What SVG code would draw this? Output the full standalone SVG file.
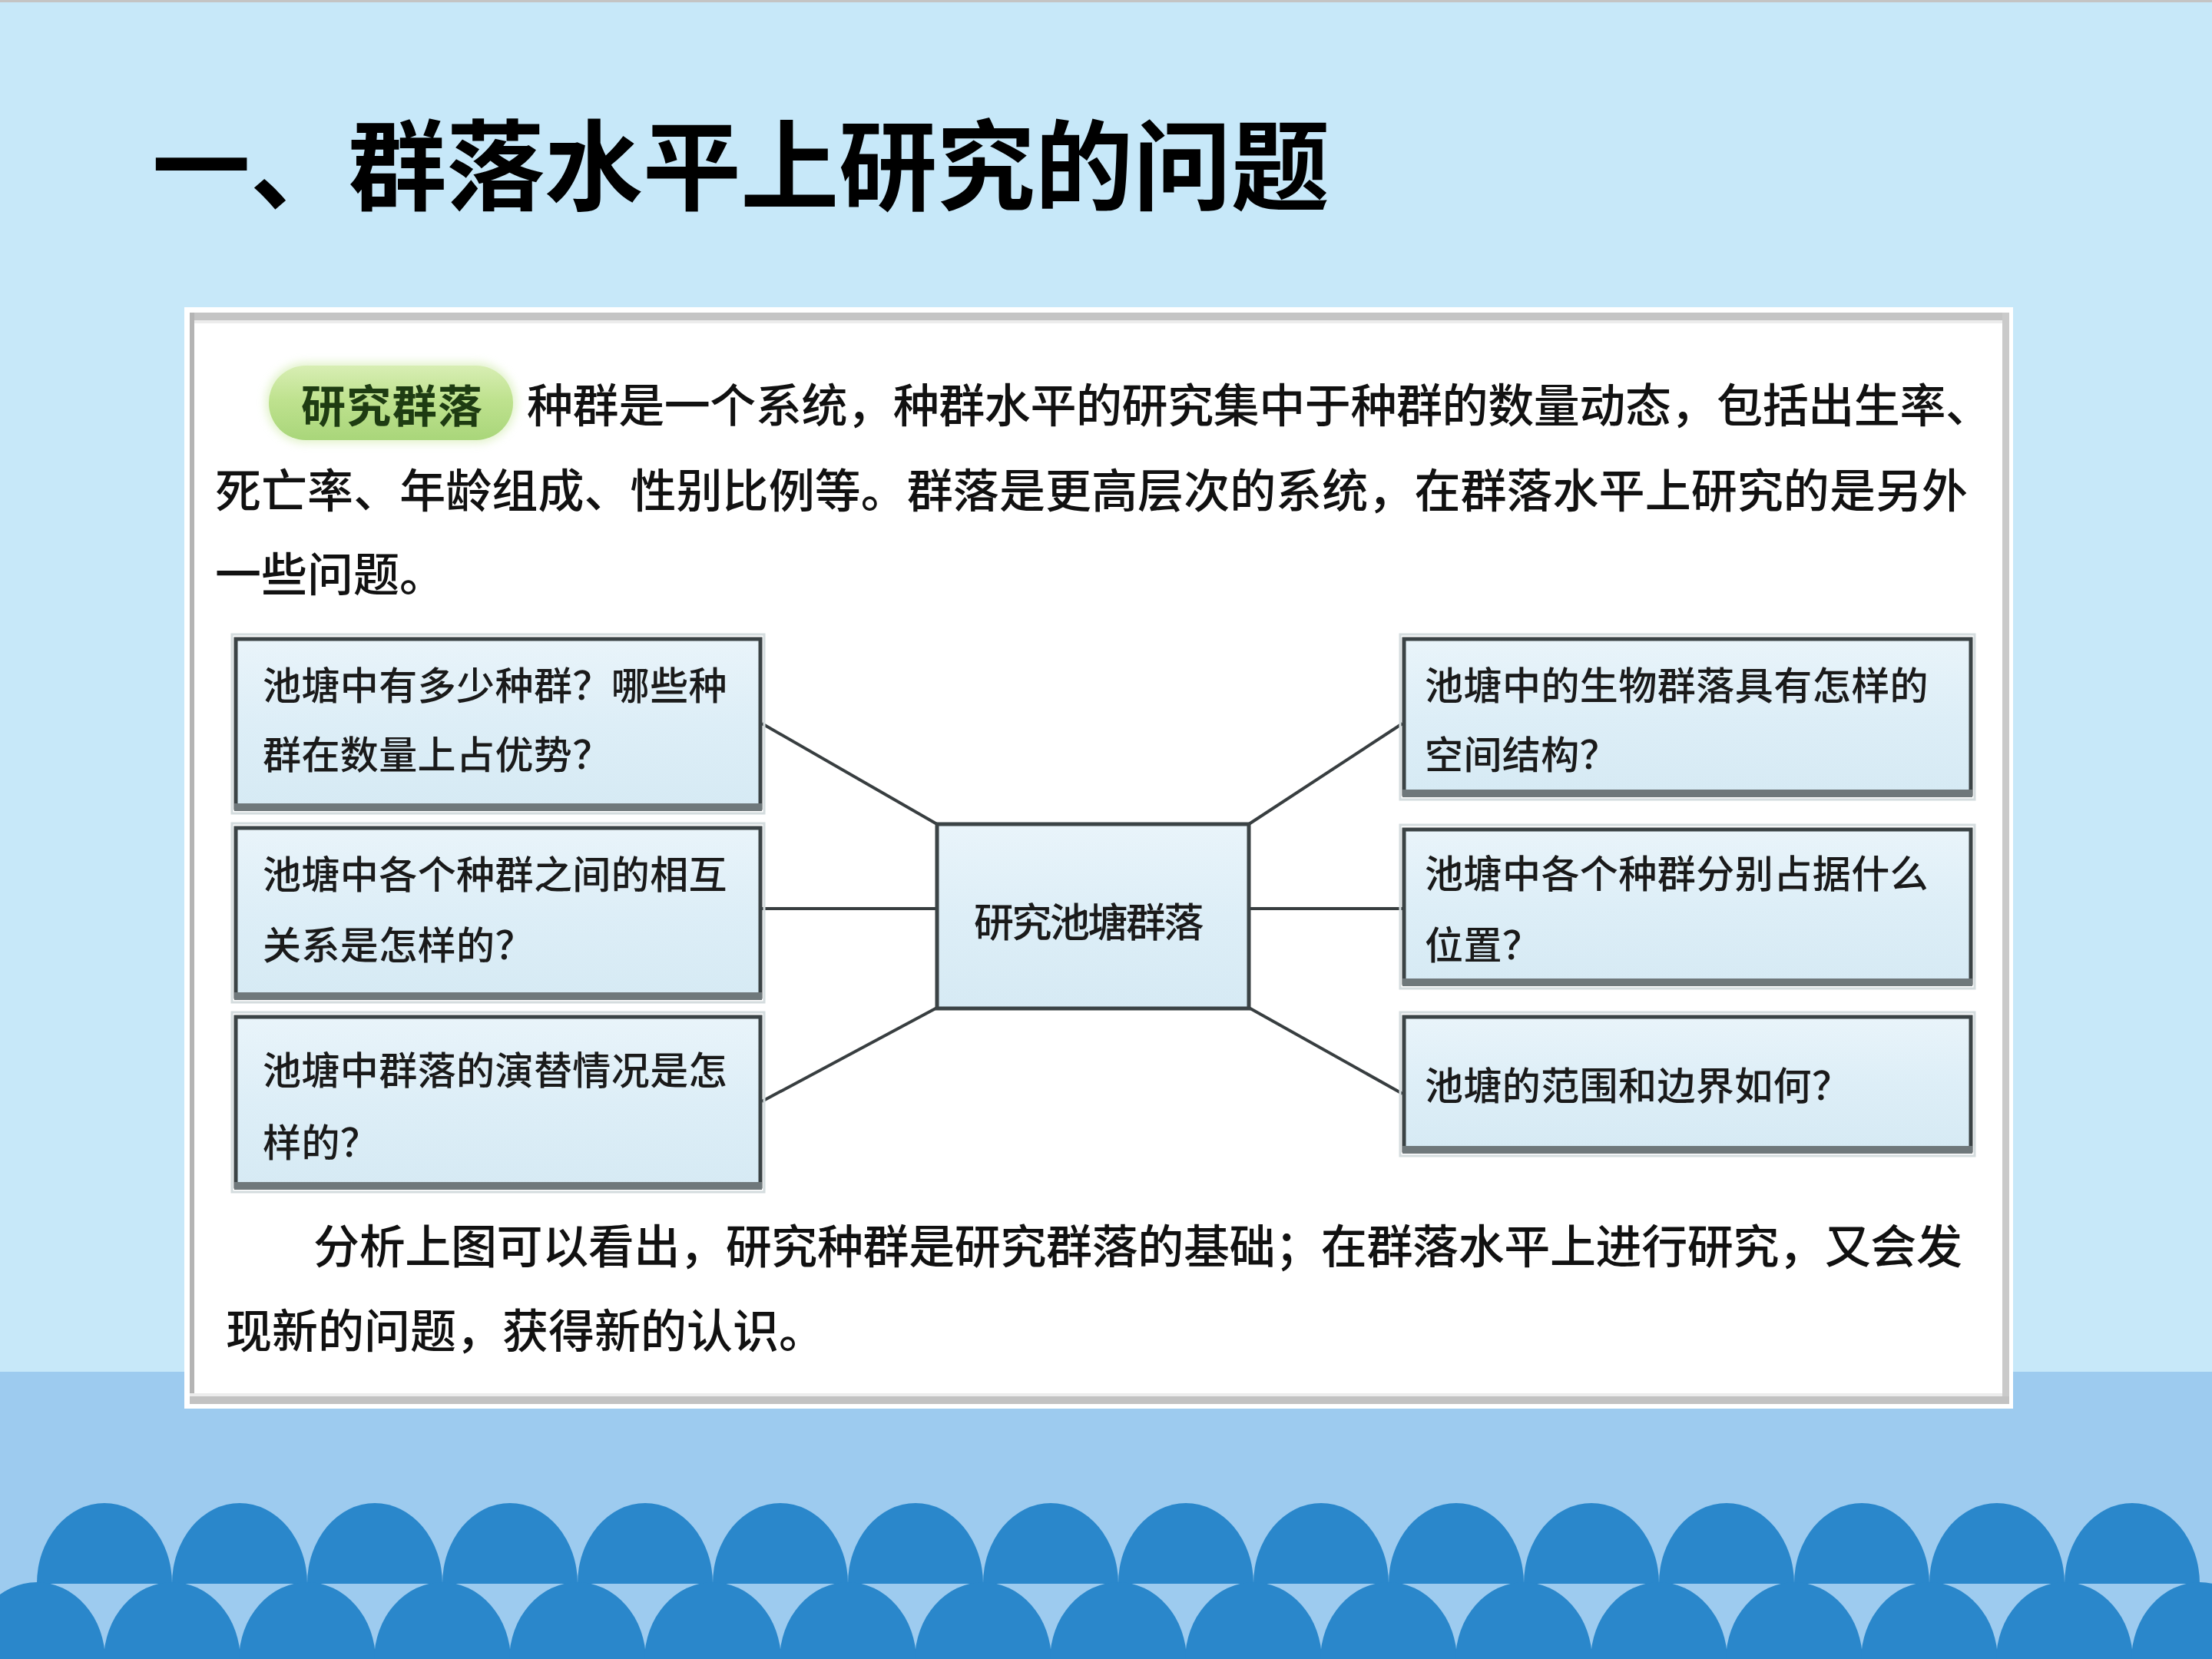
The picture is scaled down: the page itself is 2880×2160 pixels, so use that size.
<svg xmlns="http://www.w3.org/2000/svg" xmlns:xlink="http://www.w3.org/1999/xlink" width="2880" height="2160" viewBox="0 0 2880 2160">
<defs>
<style>
.title{font-family:"Noto Sans CJK SC","Noto Sans CJK TC",sans-serif;font-weight:700;font-size:128px;fill:#000}
.para{font-family:"Noto Sans CJK SC","Noto Sans CJK TC",sans-serif;font-weight:500;font-size:60px;fill:#111}
.pill{font-family:"Noto Sans CJK SC",sans-serif;font-weight:700;font-size:58px;fill:#1E3C12}
.bt{font-family:"Noto Sans CJK SC",sans-serif;font-weight:500;font-size:50px;fill:#1A1A1A;letter-spacing:0.4px}
.box{fill:url(#boxFill);stroke:#3B4345;stroke-width:5}
.boxBot{fill:#6F787B}
.boxHalo{fill:none;stroke:#D4DCDE;stroke-width:3}
.conn{stroke:#383E40;stroke-width:4;fill:none}
.arch{fill:#2A87CB}
</style>
<linearGradient id="boxFill" x1="0" y1="0" x2="0" y2="1">
<stop offset="0" stop-color="#E9F4FA"/>
<stop offset="0.5" stop-color="#DDEEF7"/>
<stop offset="1" stop-color="#D6EAF4"/>
</linearGradient>
<linearGradient id="pillFill" x1="0" y1="0" x2="0" y2="1">
<stop offset="0" stop-color="#D8EEB4"/>
<stop offset="0.45" stop-color="#BFE28F"/>
<stop offset="1" stop-color="#A9D67A"/>
</linearGradient>
<filter id="glow" x="-20%" y="-40%" width="140%" height="180%">
<feGaussianBlur stdDeviation="6"/>
</filter>
<path id="archTop" d="M -88 0 A 88 105 0 0 1 88 0 Z"/>
<path id="archBot" d="M -89 0 A 89 102 0 0 1 89 0 Z"/>
</defs>

<!-- background -->
<rect x="0" y="0" width="2880" height="1786" fill="#C7E8F9"/>
<rect x="0" y="1786" width="2880" height="374" fill="#9DCBEF"/>
<rect x="0" y="0" width="2880" height="3" fill="#C4C4C4"/>

<!-- scallops -->
<g id="scallops" class="arch">
<use xlink:href="#archTop" href="#archTop" x="136" y="2062"/>
<use xlink:href="#archTop" href="#archTop" x="312" y="2062"/>
<use xlink:href="#archTop" href="#archTop" x="488" y="2062"/>
<use xlink:href="#archTop" href="#archTop" x="664" y="2062"/>
<use xlink:href="#archTop" href="#archTop" x="840" y="2062"/>
<use xlink:href="#archTop" href="#archTop" x="1016" y="2062"/>
<use xlink:href="#archTop" href="#archTop" x="1192" y="2062"/>
<use xlink:href="#archTop" href="#archTop" x="1368" y="2062"/>
<use xlink:href="#archTop" href="#archTop" x="1544" y="2062"/>
<use xlink:href="#archTop" href="#archTop" x="1720" y="2062"/>
<use xlink:href="#archTop" href="#archTop" x="1896" y="2062"/>
<use xlink:href="#archTop" href="#archTop" x="2072" y="2062"/>
<use xlink:href="#archTop" href="#archTop" x="2248" y="2062"/>
<use xlink:href="#archTop" href="#archTop" x="2424" y="2062"/>
<use xlink:href="#archTop" href="#archTop" x="2600" y="2062"/>
<use xlink:href="#archTop" href="#archTop" x="2776" y="2062"/>
<use xlink:href="#archBot" href="#archBot" x="48" y="2162"/>
<use xlink:href="#archBot" href="#archBot" x="224" y="2162"/>
<use xlink:href="#archBot" href="#archBot" x="400" y="2162"/>
<use xlink:href="#archBot" href="#archBot" x="576" y="2162"/>
<use xlink:href="#archBot" href="#archBot" x="752" y="2162"/>
<use xlink:href="#archBot" href="#archBot" x="928" y="2162"/>
<use xlink:href="#archBot" href="#archBot" x="1104" y="2162"/>
<use xlink:href="#archBot" href="#archBot" x="1280" y="2162"/>
<use xlink:href="#archBot" href="#archBot" x="1456" y="2162"/>
<use xlink:href="#archBot" href="#archBot" x="1632" y="2162"/>
<use xlink:href="#archBot" href="#archBot" x="1808" y="2162"/>
<use xlink:href="#archBot" href="#archBot" x="1984" y="2162"/>
<use xlink:href="#archBot" href="#archBot" x="2160" y="2162"/>
<use xlink:href="#archBot" href="#archBot" x="2336" y="2162"/>
<use xlink:href="#archBot" href="#archBot" x="2512" y="2162"/>
<use xlink:href="#archBot" href="#archBot" x="2688" y="2162"/>
<use xlink:href="#archBot" href="#archBot" x="2864" y="2162"/>
</g>

<!-- title -->
<text class="title" x="198" y="264" textLength="1533" lengthAdjust="spacing">一、群落水平上研究的问题</text>

<!-- panel -->
<g id="panel">
<rect x="240" y="400" width="2381" height="1434" fill="#FFFFFF"/>
<rect x="247" y="407" width="2369" height="10" fill="#C4C4C4"/>
<rect x="247" y="417" width="2369" height="4" fill="#ECECEC"/>
<rect x="247" y="407" width="6" height="1421" fill="#B4B4B4"/>
<rect x="2607" y="407" width="9" height="1421" fill="#CACACA"/>
<rect x="247" y="1818" width="2369" height="10" fill="#C2C2C2"/>
<rect x="247" y="1814" width="2360" height="4" fill="#ECECEC"/>
</g>

<!-- intro paragraph -->
<g id="pill">
<rect x="346" y="472" width="326" height="105" rx="52" fill="#CFEAA8" opacity="0.6" filter="url(#glow)"/>
<rect x="350" y="476" width="318" height="97" rx="48" fill="url(#pillFill)"/>
<text class="pill" x="392" y="550" textLength="236" lengthAdjust="spacing">研究群落</text>
</g>
<g id="intro">
<text class="para" x="686" y="550" textLength="1907" lengthAdjust="spacing">种群是一个系统，种群水平的研究集中于种群的数量动态，包括出生率、</text>
<text class="para" x="280" y="661" textLength="2282" lengthAdjust="spacing">死亡率、年龄组成、性别比例等。群落是更高层次的系统，在群落水平上研究的是另外</text>
<text class="para" x="280" y="770">一些问题。</text>
</g>

<!-- connectors -->
<g id="connectors" class="conn">
<line x1="992" y1="942" x2="1220" y2="1073"/>
<line x1="992" y1="1183" x2="1220" y2="1183"/>
<line x1="992" y1="1434" x2="1220" y2="1312"/>
<line x1="1626" y1="1073" x2="1826" y2="942"/>
<line x1="1626" y1="1183" x2="1826" y2="1183"/>
<line x1="1626" y1="1312" x2="1826" y2="1424"/>
</g>

<!-- center node -->
<g id="node-center">
<rect class="box" x="1220" y="1073" width="406" height="240"/>
<text class="bt" x="1268" y="1220" style="font-size:52px" textLength="300" lengthAdjust="spacing">研究池塘群落</text>
</g>

<!-- left nodes -->
<g id="node-l1">
<rect class="boxHalo" x="302" y="826" width="693" height="233"/>
<rect class="box" x="307" y="832" width="683" height="220"/>
<rect class="boxBot" x="305" y="1046" width="687" height="10"/>
<text class="bt" x="342" y="911" textLength="605" lengthAdjust="spacing">池塘中有多少种群？哪些种</text>
<text class="bt" x="342" y="1001">群在数量上占优势？</text>
</g>
<g id="node-l2">
<rect class="boxHalo" x="302" y="1072" width="693" height="233"/>
<rect class="box" x="307" y="1078" width="683" height="220"/>
<rect class="boxBot" x="305" y="1292" width="687" height="10"/>
<text class="bt" x="342" y="1157" textLength="605" lengthAdjust="spacing">池塘中各个种群之间的相互</text>
<text class="bt" x="342" y="1249">关系是怎样的？</text>
</g>
<g id="node-l3">
<rect class="boxHalo" x="302" y="1318" width="693" height="234"/>
<rect class="box" x="307" y="1324" width="683" height="221"/>
<rect class="boxBot" x="305" y="1539" width="687" height="10"/>
<text class="bt" x="342" y="1412" textLength="605" lengthAdjust="spacing">池塘中群落的演替情况是怎</text>
<text class="bt" x="342" y="1506">样的？</text>
</g>

<!-- right nodes -->
<g id="node-r1">
<rect class="boxHalo" x="1823" y="826" width="748" height="215"/>
<rect class="box" x="1828" y="832" width="738" height="202"/>
<rect class="boxBot" x="1826" y="1028" width="742" height="10"/>
<text class="bt" x="1855" y="911" textLength="656" lengthAdjust="spacing">池塘中的生物群落具有怎样的</text>
<text class="bt" x="1855" y="1001">空间结构？</text>
</g>
<g id="node-r2">
<rect class="boxHalo" x="1823" y="1074" width="748" height="213"/>
<rect class="box" x="1828" y="1080" width="738" height="200"/>
<rect class="boxBot" x="1826" y="1274" width="742" height="10"/>
<text class="bt" x="1855" y="1156" textLength="656" lengthAdjust="spacing">池塘中各个种群分别占据什么</text>
<text class="bt" x="1855" y="1249">位置？</text>
</g>
<g id="node-r3">
<rect class="boxHalo" x="1823" y="1318" width="748" height="187"/>
<rect class="box" x="1828" y="1324" width="738" height="174"/>
<rect class="boxBot" x="1826" y="1492" width="742" height="10"/>
<text class="bt" x="1855" y="1432">池塘的范围和边界如何？</text>
</g>

<!-- closing paragraph -->
<g id="outro">
<text class="para" x="408" y="1645" textLength="2147" lengthAdjust="spacing">分析上图可以看出，研究种群是研究群落的基础；在群落水平上进行研究，又会发</text>
<text class="para" x="294" y="1755">现新的问题，获得新的认识。</text>
</g>
</svg>
